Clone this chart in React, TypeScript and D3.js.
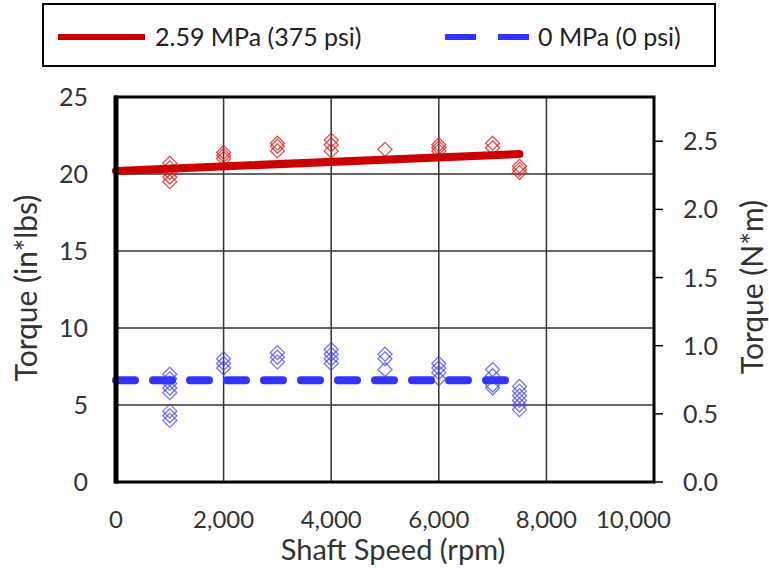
import * as d3 from 'd3';

// speed (rpm) / torque (in*lbs) readings
const redSpeeds = [1000, 1000, 1000, 1000, 1000, 2000, 2000, 2000, 3000, 3000, 3000, 4000, 4000, 4000, 5000, 6000, 6000, 6000, 7000, 7000, 7500, 7500, 7500];
const redTorque = [20.7, 20.4, 20.1, 19.8, 19.5, 21.4, 21.2, 21.0, 22.0, 21.8, 21.5, 22.2, 21.9, 21.5, 21.6, 21.9, 21.7, 21.5, 22.0, 21.7, 20.5, 20.3, 20.1];
const blueSpeeds = [1000, 1000, 1000, 1000, 1000, 1000, 1000, 1000, 2000, 2000, 2000, 3000, 3000, 3000, 4000, 4000, 4000, 4000, 5000, 5000, 5000, 6000, 6000, 6000, 6000, 7000, 7000, 7000, 7000, 7500, 7500, 7500, 7500, 7500, 7500];
const blueTorque = [7.0, 6.7, 6.4, 6.1, 5.8, 4.6, 4.3, 4.0, 8.0, 7.7, 7.4, 8.4, 8.1, 7.8, 8.6, 8.3, 8.0, 7.7, 8.3, 8.0, 7.3, 7.7, 7.4, 7.1, 6.7, 7.3, 6.9, 6.3, 6.1, 6.2, 5.9, 5.6, 5.3, 5.0, 4.7];
// fitted trend lines
const redFitX = [0, 7500];
const redFitY = [20.2, 21.3];
const blueFitX = [0, 7500];
const blueFitY = [6.6, 6.6];

const xTicks = [0, 2000, 4000, 6000, 8000, 10000];
const yTicks = [0, 5, 10, 15, 20, 25];
const yRightTicks = [0, 0.5, 1.0, 1.5, 2.0, 2.5];
const legendLabels = ['2.59 MPa (375 psi)', '0 MPa (0 psi)'];

const RED = '#cc0000';
const BLUE = '#3333ff';
const FONT = 'Lato, "Open Sans", sans-serif';
const INLB_TO_NM = 0.112985;

export default function App() {
  const W = 769;
  const H = 568;
  const left = 116;
  const right = 654;
  const top = 97;
  const bottom = 482;

  const x = d3.scaleLinear().domain([0, 10000]).range([left, right]);
  const y = d3.scaleLinear().domain([0, 25]).range([bottom, top]);
  const yR = d3.scaleLinear().domain([0, 25 * INLB_TO_NM]).range([bottom, top]);

  const redPath = d3.line<number>().x((d) => x(d)).y((_, i) => y(redFitY[i]))(redFitX) || '';
  const bluePath = d3.line<number>().x((d) => x(d)).y((_, i) => y(blueFitY[i]))(blueFitX) || '';

  const diamond = (cx: number, cy: number, r: number) =>
    `M${cx},${cy - r}L${cx + r},${cy}L${cx},${cy + r}L${cx - r},${cy}Z`;

  const fmt = d3.format(',');

  return (
    <svg width={W} height={H} style={{ position: 'absolute', left: 0, top: 0, background: '#fff' }} fontFamily={FONT}>
      {/* legend */}
      <rect x={43} y={4} width={672} height={62} fill="#fff" stroke="#000" strokeWidth={2} />
      <line x1={58} x2={145} y1={37} y2={37} stroke={RED} strokeWidth={6} />
      <text x={155} y={37} dy="0.36em" fontSize={25} fill="#222">{legendLabels[0]}</text>
      <line x1={445} x2={530} y1={37} y2={37} stroke={BLUE} strokeWidth={6} strokeDasharray="31,22" />
      <text x={538} y={37} dy="0.36em" fontSize={25} fill="#222">{legendLabels[1]}</text>

      {/* grid */}
      {yTicks.filter((t) => t > 0 && t < 25).map((t) => (
        <line key={'gy' + t} x1={left} x2={right} y1={y(t)} y2={y(t)} stroke="#333" strokeWidth={1.5} />
      ))}
      {xTicks.filter((t) => t > 0 && t < 10000).map((t) => (
        <line key={'gx' + t} x1={x(t)} x2={x(t)} y1={top} y2={bottom} stroke="#333" strokeWidth={1.5} />
      ))}

      {/* markers */}
      {redSpeeds.map((s, i) => (
        <path key={'r' + i} d={diamond(x(s), y(redTorque[i]), 7)} fill="none" stroke="#e02020" strokeOpacity={0.8} strokeWidth={1.3} />
      ))}
      {blueSpeeds.map((s, i) => (
        <path key={'b' + i} d={diamond(x(s), y(blueTorque[i]), 7)} fill="none" stroke="#4444ff" strokeOpacity={0.75} strokeWidth={1.3} />
      ))}

      {/* fits */}
      <path d={redPath} stroke={RED} strokeWidth={8} fill="none" strokeLinecap="round" />
      <path d={bluePath} stroke={BLUE} strokeWidth={8} fill="none" strokeLinecap="round" strokeDasharray="19,18" />

      {/* frame */}
      <rect x={left} y={top} width={right - left} height={bottom - top} fill="none" stroke="#000" strokeWidth={3} />
      <line x1={left} x2={left} y1={top - 1.5} y2={bottom + 1.5} stroke="#000" strokeWidth={5} />

      {/* left axis */}
      {yTicks.map((t) => (
        <text key={'yl' + t} x={88} y={y(t)} dy="0.36em" textAnchor="end" fontSize={25} fill="#333">{t}</text>
      ))}
      {/* right axis */}
      {yRightTicks.map((t) => (
        <g key={'yr' + t}>
          <line x1={right} x2={right + 9} y1={yR(t)} y2={yR(t)} stroke="#000" strokeWidth={1.5} />
          <text x={683} y={yR(t)} dy="0.36em" fontSize={25} fill="#333">{t.toFixed(1)}</text>
        </g>
      ))}
      {/* bottom axis, last label pulled inside like the source */}
      {xTicks.map((t, i) => (
        <text
          key={'xl' + t}
          x={i === xTicks.length - 1 ? 671 : x(t)}
          y={519}
          dy="0.36em"
          textAnchor={i === xTicks.length - 1 ? 'end' : 'middle'}
          fontSize={24}
          fill="#333"
        >
          {fmt(t)}
        </text>
      ))}

      <text x={393} y={550} dy="0.36em" textAnchor="middle" fontSize={29} fill="#333">Shaft Speed (rpm)</text>
      <text transform={`translate(26,${288}) rotate(-90)`} dy="0.36em" textAnchor="middle" fontSize={30} fill="#333">Torque (in*lbs)</text>
      <text transform={`translate(752,${287}) rotate(-90)`} dy="0.36em" textAnchor="middle" fontSize={30} fill="#333">Torque (N*m)</text>
    </svg>
  );
}
